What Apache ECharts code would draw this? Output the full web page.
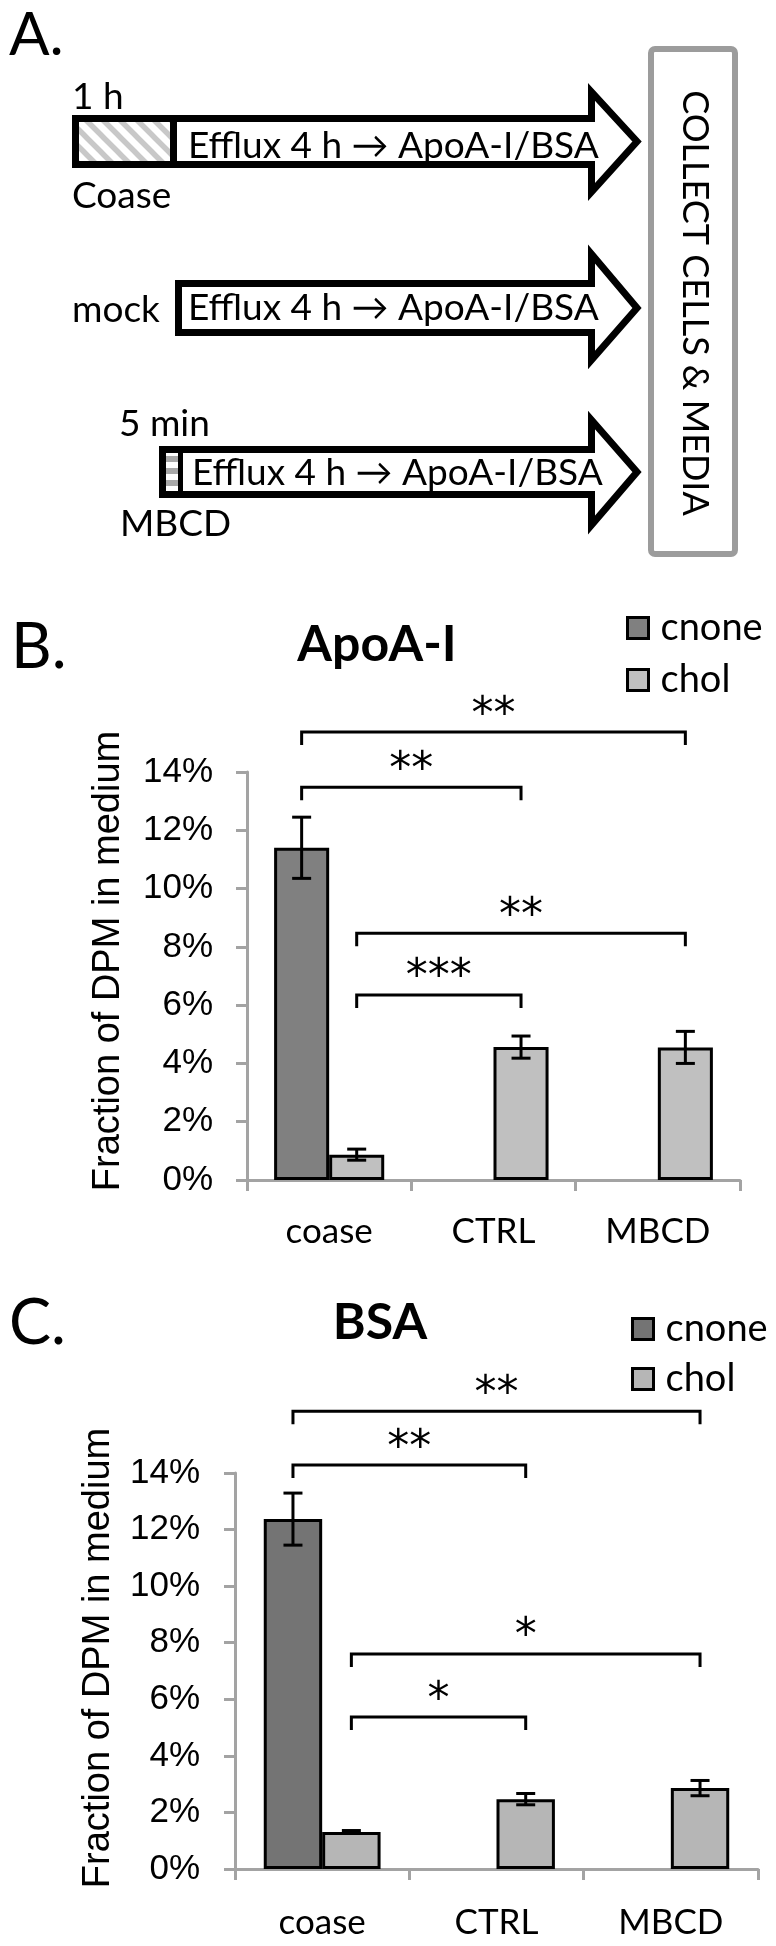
<!DOCTYPE html>
<html><head><meta charset="utf-8">
<script src="https://cdn.jsdelivr.net/npm/echarts@6/dist/echarts.min.js"></script>
<style>html,body{margin:0;padding:0;background:#fff}#c{width:776px;height:1946px}</style>
</head><body><div id="c"></div>
<script>
// ---------- data ----------
const categories = ['coase', 'CTRL', 'MBCD'];
const seriesNames = ['cnone', 'chol'];
const yMin = 0, yMax = 14, yInterval = 2;

// Panel B: ApoA-I (percent of DPM in medium)
const apoCnone    = [11.4, null, null];
const apoCnoneErr = [1.05, null, null];
const apoChol     = [0.87, 4.56, 4.55];
const apoCholErr  = [0.19, 0.38, 0.55];
// [fromCategory, fromSeries, toCategory, toSeries, level(%), label]
const apoBrackets = [
  [0, 0, 2, 1, 15.37, '**'],
  [0, 0, 1, 1, 13.48, '**'],
  [0, 1, 2, 1, 8.47, '**'],
  [0, 1, 1, 1, 6.35, '***']
];

// Panel C: BSA
const bsaCnone    = [12.37, null, null];
const bsaCnoneErr = [0.92, null, null];
const bsaChol     = [1.31, 2.47, 2.86];
const bsaCholErr  = [0.05, 0.20, 0.27];
const bsaBrackets = [
  [0, 0, 2, 1, 16.18, '**'],
  [0, 0, 1, 1, 14.28, '**'],
  [0, 1, 2, 1, 7.60, '*'],
  [0, 1, 1, 1, 5.37, '*']
];

// Panel A texts
const stepText = 'Efflux 4 h \u2192 ApoA-I/BSA';
const collectText = 'COLLECT CELLS & MEDIA';

// ---------- styles ----------
const LATO = 'Lato, "Open Sans", sans-serif';
const ARIAL = '"Liberation Sans", Arial, sans-serif';
const AXIS_GRAY = '#a3a3a3';
const BAR_FRAC = 0.335;

function stripeCanvas(kind) {
  const c = document.createElement('canvas');
  if (kind === 'diag') {
    const s = 17; c.width = s; c.height = s;
    const g = c.getContext('2d');
    g.fillStyle = '#fff'; g.fillRect(0, 0, s, s);
    g.strokeStyle = '#c8c8c8'; g.lineWidth = 5.5;
    g.beginPath();
    for (let k = -1; k <= 1; k++) { g.moveTo(-2, k * s - 2); g.lineTo(s + 2, s + k * s + 2); }
    g.stroke();
  } else {
    c.width = 4; c.height = 12;
    const g = c.getContext('2d');
    g.fillStyle = '#fff'; g.fillRect(0, 0, 4, 12);
    g.fillStyle = '#a8a8a8'; g.fillRect(0, 0, 4, 6);
  }
  return c;
}

function arrowPts(L, T, B, HX, HT, HB, TIP) {
  const M = (T + B) / 2;
  return [[L, T], [HX, T], [HX, HT], [TIP, M], [HX, HB], [HX, B], [L, B]];
}
function txt(text, x, y, size, opts) {
  opts = opts || {};
  return {
    type: 'text', x: x, y: y, rotation: opts.rotation || 0, z: 10,
    style: {
      text: text, x: 0, y: 0, fill: '#000',
      font: (opts.weight || 'normal') + ' ' + size + 'px ' + (opts.family || LATO),
      align: opts.align || 'left', textAlign: opts.align || 'left',
      verticalAlign: 'middle', textVerticalAlign: 'middle'
    }
  };
}
const LW = 7;
const graphics = [
  txt('A.', 9, 36, 60),
  // arrow 1 (coase)
  { type: 'polygon', z: 5, shape: { points: arrowPts(75.5, 118.5, 164.5, 591.5, 92, 192, 637) },
    style: { fill: '#fff', stroke: '#000', lineWidth: LW, lineJoin: 'miter', miterLimit: 10 } },
  { type: 'rect', z: 6, shape: { x: 79, y: 122, width: 91, height: 39 },
    style: { fill: { image: stripeCanvas('diag'), repeat: 'repeat' } } },
  { type: 'line', z: 7, shape: { x1: 173.5, y1: 118.5, x2: 173.5, y2: 164.5 }, style: { stroke: '#000', lineWidth: LW } },
  txt(stepText, 188, 146, 37),
  txt('1 h', 72, 97, 37),
  txt('Coase', 72, 196, 37),
  // arrow 2 (mock)
  { type: 'polygon', z: 5, shape: { points: arrowPts(178.5, 283.5, 332.5, 591.5, 254, 360, 637) },
    style: { fill: '#fff', stroke: '#000', lineWidth: LW, lineJoin: 'miter', miterLimit: 10 } },
  txt(stepText, 188, 308, 37),
  txt('mock', 72, 310, 37),
  // arrow 3 (MBCD)
  { type: 'polygon', z: 5, shape: { points: arrowPts(162.5, 449.5, 494.5, 591.5, 420, 525, 637) },
    style: { fill: '#fff', stroke: '#000', lineWidth: LW, lineJoin: 'miter', miterLimit: 10 } },
  { type: 'rect', z: 6, shape: { x: 166, y: 453, width: 12, height: 38 },
    style: { fill: { image: stripeCanvas('horiz'), repeat: 'repeat' } } },
  { type: 'line', z: 7, shape: { x1: 180.5, y1: 449.5, x2: 180.5, y2: 494.5 }, style: { stroke: '#000', lineWidth: 5 } },
  txt(stepText, 192, 473, 37),
  txt('5 min', 119, 424, 37),
  txt('MBCD', 120, 524, 37),
  // collect box
  { type: 'rect', z: 5, shape: { x: 651, y: 49, width: 84, height: 505, r: 4 },
    style: { fill: 'none', stroke: '#9c9c9c', lineWidth: 6 } },
  txt(collectText, 695, 303, 36, { rotation: -Math.PI / 2, align: 'center' }),
  // panel labels and titles
  txt('B.', 11, 648, 63),
  txt('ApoA-I', 377, 645, 50, { weight: 'bold', align: 'center' }),
  txt('C.', 9, 1324, 63),
  txt('BSA', 380, 1323, 50, { weight: 'bold', align: 'center' })
];

// ---------- series helpers ----------
function offsetFor(api, s) {
  const band = api.size([1, 0])[0];
  return (s === 0 ? -1 : 1) * band * BAR_FRAC / 2;
}
function errSeries(vals, errs, s, gi) {
  const data = [];
  vals.forEach((v, i) => { if (v != null) data.push([i, v, errs[i]]); });
  return {
    type: 'custom', name: 'err' + gi + s, xAxisIndex: gi, yAxisIndex: gi, z: 4, silent: true,
    data: data,
    renderItem: function (params, api) {
      const i = api.value(0), v = api.value(1), e = api.value(2);
      const cx = api.coord([i, v])[0] + offsetFor(api, s);
      const yt = api.coord([i, v + e])[1], yb = api.coord([i, v - e])[1];
      const hw = 9.5, st = { stroke: '#000', lineWidth: 3 };
      return { type: 'group', children: [
        { type: 'line', shape: { x1: cx, y1: yt, x2: cx, y2: yb }, style: st },
        { type: 'line', shape: { x1: cx - hw, y1: yt, x2: cx + hw, y2: yt }, style: st },
        { type: 'line', shape: { x1: cx - hw, y1: yb, x2: cx + hw, y2: yb }, style: st }
      ] };
    }
  };
}
function bracketSeries(br, gi) {
  return {
    type: 'custom', name: 'sig' + gi, xAxisIndex: gi, yAxisIndex: gi, z: 4, silent: true, clip: false,
    data: br.map(b => [b[0], b[4]]),
    renderItem: function (params, api) {
      const b = br[params.dataIndex];
      const x1 = api.coord([b[0], 0])[0] + offsetFor(api, b[1]);
      const x2 = api.coord([b[2], 0])[0] + offsetFor(api, b[3]);
      const y = api.coord([0, b[4]])[1];
      const leg = 13;
      return { type: 'group', children: [
        { type: 'polyline', shape: { points: [[x1, y + leg], [x1, y], [x2, y], [x2, y + leg]] },
          style: { stroke: '#000', lineWidth: 3, fill: 'none' } },
        { type: 'text', style: { text: b[5], x: (x1 + x2) / 2, y: y - 16, fill: '#000',
          font: '44px "DejaVu Sans", sans-serif', align: 'center', textAlign: 'center',
          verticalAlign: 'middle', textVerticalAlign: 'middle' } }
      ] };
    }
  };
}
function barSeries(name, vals, color, gi) {
  return {
    type: 'bar', name: name, xAxisIndex: gi, yAxisIndex: gi, data: vals,
    barWidth: (BAR_FRAC * 100) + '%', barGap: '0%', z: 2,
    itemStyle: { color: color, borderColor: '#000', borderWidth: 3 }
  };
}
function xAxisFor(gi, margin) {
  return {
    type: 'category', gridIndex: gi, data: categories,
    axisLine: { show: true, lineStyle: { color: AXIS_GRAY, width: 3 } },
    axisTick: { show: true, length: 11, alignWithLabel: false, lineStyle: { color: AXIS_GRAY, width: 3 } },
    axisLabel: { color: '#000', fontFamily: LATO, fontSize: 35, margin: margin }
  };
}
function yAxisFor(gi, margin, gap, shift) {
  return {
    type: 'value', gridIndex: gi, min: yMin, max: yMax, interval: yInterval,
    name: 'Fraction of DPM in medium', nameLocation: 'middle', nameRotate: 90, nameGap: gap,
    nameTextStyle: { color: '#000', fontFamily: ARIAL, fontSize: 38, padding: [0, 0, 0, shift] },
    splitLine: { show: false },
    axisLine: { show: true, lineStyle: { color: AXIS_GRAY, width: 3 } },
    axisTick: { show: true, length: 11, lineStyle: { color: AXIS_GRAY, width: 3 } },
    axisLabel: { color: '#000', fontFamily: ARIAL, fontSize: 35, margin: margin, formatter: '{value}%' }
  };
}
function legendFor(left, top, gap, c1, c2) {
  return {
    orient: 'vertical', left: left, top: top, padding: 0, itemGap: gap,
    itemWidth: 21, itemHeight: 21, icon: 'rect', selectedMode: false,
    itemStyle: { borderColor: '#000', borderWidth: 3 },
    textStyle: { color: '#000', fontFamily: LATO, fontSize: 38, lineHeight: 40, padding: [0, 0, 0, 7] },
    data: [{ name: seriesNames[0], itemStyle: { color: c1 } }, { name: seriesNames[1], itemStyle: { color: c2 } }]
  };
}

const option = {
  animation: false,
  backgroundColor: '#fff',
  graphic: graphics,
  legend: [legendFor(626, 608, 12, '#808080', '#c0c0c0'), legendFor(631, 1309, 10, '#747474', '#b6b6b6')],
  grid: [
    { left: 247, top: 772, width: 493, height: 408, containLabel: false },
    { left: 235, top: 1473, width: 523, height: 396, containLabel: false }
  ],
  xAxis: [xAxisFor(0, 34), xAxisFor(1, 36)],
  yAxis: [yAxisFor(0, 34, 119, 30), yAxisFor(1, 35, 117, 26)],
  series: [
    barSeries(seriesNames[0], apoCnone, '#808080', 0),
    barSeries(seriesNames[1], apoChol, '#c0c0c0', 0),
    errSeries(apoCnone, apoCnoneErr, 0, 0),
    errSeries(apoChol, apoCholErr, 1, 0),
    bracketSeries(apoBrackets, 0),
    barSeries(seriesNames[0], bsaCnone, '#747474', 1),
    barSeries(seriesNames[1], bsaChol, '#b6b6b6', 1),
    errSeries(bsaCnone, bsaCnoneErr, 0, 1),
    errSeries(bsaChol, bsaCholErr, 1, 1),
    bracketSeries(bsaBrackets, 1)
  ]
};
const chart = echarts.init(document.getElementById('c'));
chart.setOption(option);
</script>
</body></html>
